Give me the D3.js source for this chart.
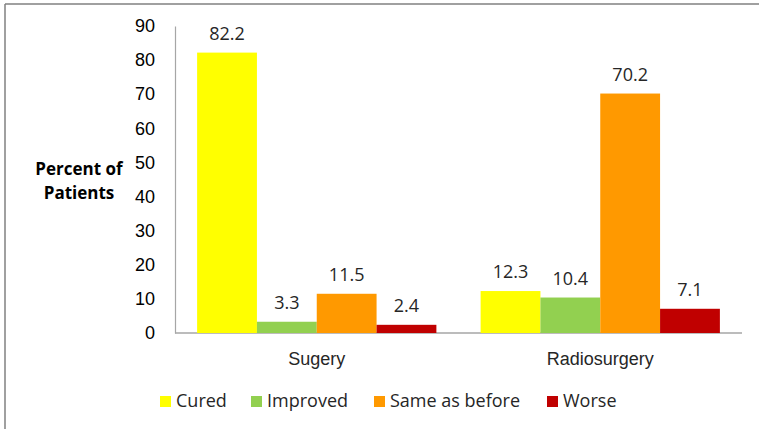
<!DOCTYPE html>
<html>
<head>
<meta charset="utf-8">
<script src="https://cdn.jsdelivr.net/npm/d3@7"></script>
<style>
  body { margin: 0; background: #fff; }
  svg { font-family: "Open Sans", sans-serif; }
</style>
</head>
<body>
<div id="chart"></div>
<script>
const groups = ["Sugery", "Radiosurgery"];
const outcomes = ["Cured", "Improved", "Same as before", "Worse"];
const cured = [82.2, 12.3];
const improved = [3.3, 10.4];
const sameAsBefore = [11.5, 70.2];
const worse = [2.4, 7.1];
const yTicks = [0, 10, 20, 30, 40, 50, 60, 70, 80, 90];
const colors = ["#ffff00", "#92d050", "#ff9900", "#c00000"];

const width = 759, height = 429;
const margin = { top: 26, right: 17, bottom: 96, left: 175 };

const series = [cured, improved, sameAsBefore, worse];
const rows = [];
groups.forEach((g, gi) => {
  outcomes.forEach((o, oi) => {
    rows.push({ group: g, outcome: o, value: series[oi][gi] });
  });
});

const svg = d3.select("#chart")
  .append("svg")
  .attr("width", width)
  .attr("height", height);

// frame (only top and left edges are visible)
svg.append("line")
  .attr("x1", 5).attr("x2", width).attr("y1", 4).attr("y2", 4)
  .attr("stroke", "#808080").attr("stroke-width", 1.5);
svg.append("line")
  .attr("x1", 5).attr("x2", 5).attr("y1", 4).attr("y2", height)
  .attr("stroke", "#808080").attr("stroke-width", 1.5);

const y = d3.scaleLinear()
  .domain([0, 90])
  .range([height - margin.bottom, margin.top]);

const x0 = d3.scaleBand()
  .domain(groups)
  .range([margin.left, width - margin.right])
  .paddingInner(0.156)
  .paddingOuter(0.078);

const x1 = d3.scaleBand()
  .domain(outcomes)
  .range([0, x0.bandwidth()]);

const color = d3.scaleOrdinal().domain(outcomes).range(colors);

// y axis
const yAxis = svg.append("g")
  .attr("transform", `translate(${margin.left},0)`)
  .call(d3.axisLeft(y).tickValues(yTicks).tickSize(0).tickPadding(20));
yAxis.select(".domain").attr("stroke", "#a6a6a6").attr("stroke-width", 1.2);
yAxis.selectAll("text")
  .style("font-size", "18px")
  .attr("fill", "#000");

// x axis
const xAxis = svg.append("g")
  .attr("transform", `translate(0,${y(0)})`)
  .call(d3.axisBottom(x0).tickSize(0).tickPadding(19));
xAxis.select(".domain").attr("stroke", "#a6a6a6").attr("stroke-width", 1.5)
  .attr("d", `M${margin.left},0H${width - margin.right}`);
xAxis.selectAll("text")
  .style("font-size", "18px")
  .attr("fill", "#262626");

// bars
svg.append("g")
  .selectAll("rect")
  .data(rows)
  .join("rect")
  .attr("x", d => x0(d.group) + x1(d.outcome))
  .attr("y", d => y(d.value))
  .attr("width", x1.bandwidth())
  .attr("height", d => y(0) - y(d.value))
  .attr("fill", d => color(d.outcome));

// value labels
svg.append("g")
  .selectAll("text")
  .data(rows)
  .join("text")
  .attr("x", d => x0(d.group) + x1(d.outcome) + x1.bandwidth() / 2)
  .attr("y", d => y(d.value) - 13)
  .attr("text-anchor", "middle")
  .style("font-size", "18px")
  .attr("fill", "#262626")
  .text(d => d.value);

// y title
svg.append("text")
  .attr("x", 79)
  .attr("y", 175)
  .attr("text-anchor", "middle")
  .style("font-size", "17px")
  .style("font-weight", "bold")
  .selectAll("tspan")
  .data(["Percent of", "Patients"])
  .join("tspan")
  .attr("x", 79)
  .attr("dy", (d, i) => i === 0 ? 0 : 24)
  .text(d => d);

// legend
const legendX = [160, 251, 374, 547];
const legend = svg.append("g")
  .selectAll("g")
  .data(outcomes)
  .join("g")
  .attr("transform", (d, i) => `translate(${legendX[i]},${396})`);
legend.append("rect")
  .attr("width", 11).attr("height", 11)
  .attr("fill", d => color(d));
legend.append("text")
  .attr("x", 16)
  .attr("y", 11)
  .style("font-size", "18px")
  .attr("fill", "#262626")
  .text(d => d);
</script>
</body>
</html>
